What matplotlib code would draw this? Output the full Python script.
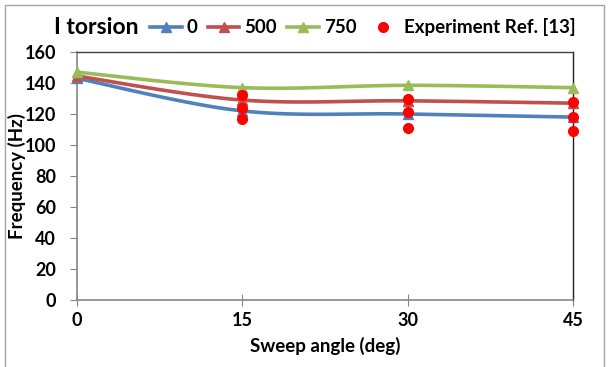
import numpy as np
import matplotlib
matplotlib.use("Agg")
from matplotlib import pyplot as plt
from matplotlib.lines import Line2D
from matplotlib.patches import Rectangle

sweep = [0, 15, 30, 45]
freq_0 = [143, 122, 120, 118]
freq_500 = [144.5, 129, 128.5, 127]
freq_750 = [147, 137, 138.5, 137]

exp_x = [15, 15, 15, 30, 30, 30, 45, 45, 45]
exp_y = [132, 124, 117, 130, 121, 111, 128, 118, 109]

series_labels = ["0", "500", "750"]
colors = ["#4F81BD", "#C0504D", "#9BBB59"]

plt.rcParams['font.family'] = ['Lato', 'DejaVu Sans']
plt.rcParams['font.weight'] = 'bold'


def smooth(x, y, n=40):
    # bezier smoothing like a spreadsheet "smoothed line"
    pts = np.column_stack([x, y]).astype(float)
    out = []
    for i in range(len(pts) - 1):
        p0 = pts[i - 1] if i > 0 else pts[i]
        p1 = pts[i]
        p2 = pts[i + 1]
        p3 = pts[i + 2] if i + 2 < len(pts) else pts[i + 1]
        c1 = p1 + (p2 - p0) / 6
        c2 = p2 - (p3 - p1) / 6
        t = np.linspace(0, 1, n)[:, None]
        seg = ((1 - t) ** 3) * p1 + 3 * ((1 - t) ** 2) * t * c1 \
            + 3 * (1 - t) * t ** 2 * c2 + t ** 3 * p2
        out.append(seg if i == 0 else seg[1:])
    out = np.vstack(out)
    return out[:, 0], out[:, 1]


fig = plt.figure(figsize=(6.14, 3.67), dpi=100)
ax = fig.add_axes([0.1254, 0.1826, 0.8078, 0.6757])

for ys, c in zip([freq_0, freq_500, freq_750], colors):
    sx, sy = smooth(sweep, ys)
    ax.plot(sx, sy, color=c, lw=2.6, solid_capstyle='round', clip_on=False, zorder=2)
    ax.plot(sweep, ys, ls='none', marker='^', ms=6.5, color=c, clip_on=False, zorder=3)

ax.plot(exp_x, exp_y, ls='none', marker='o', ms=7, color='#FF0000', clip_on=False, zorder=4)

ax.set_xlim(0, 45)
ax.set_ylim(0, 160)
ax.set_xticks(sweep)
ax.set_yticks(np.arange(0, 161, 20))

for s in ['left', 'bottom']:
    ax.spines[s].set_color('#868686')
    ax.spines[s].set_linewidth(1.2)
ax.spines['top'].set_color('#404040')
ax.spines['right'].set_color('#202020')
ax.spines['top'].set_linewidth(1.0)
ax.spines['right'].set_linewidth(1.0)

ax.tick_params(axis='y', direction='out', length=5, color='#868686', labelsize=13, pad=10)
ax.tick_params(axis='x', direction='inout', length=8, color='#868686', labelsize=13, pad=5)
for lab in ax.get_xticklabels() + ax.get_yticklabels():
    lab.set_fontweight('bold')

ax.set_xlabel("Sweep angle (deg)", fontsize=13.5, fontweight='bold', labelpad=5)
ax.set_ylabel("Frequency (Hz)", fontsize=13.5, fontweight='bold')
ax.yaxis.set_label_coords(-0.102, 0.5)

fig.text(0.088, 0.926, "I torsion", fontsize=16.5, fontweight='bold', va='center', ha='left')

handles = [Line2D([], [], color=c, lw=2.6, marker='^', ms=6.5) for c in colors]
handles.append(Line2D([], [], ls='none', marker='o', ms=7, color='#FF0000'))
labels = series_labels + ["Experiment Ref. [13]"]
leg = fig.legend(handles, labels, loc='center left', bbox_to_anchor=(0.244, 0.926),
                 ncol=4, frameon=False, handlelength=1.7, handletextpad=0.27,
                 columnspacing=0.53, borderaxespad=0, borderpad=0,
                 prop={'size': 13.5, 'weight': 'bold'})

# outer chart border
fig.patches.append(Rectangle((0.008, -0.02), 0.976, 1.006, transform=fig.transFigure,
                             fill=False, edgecolor='#A6A6A6', lw=1.0))

fig.savefig("out.png", dpi=100)
